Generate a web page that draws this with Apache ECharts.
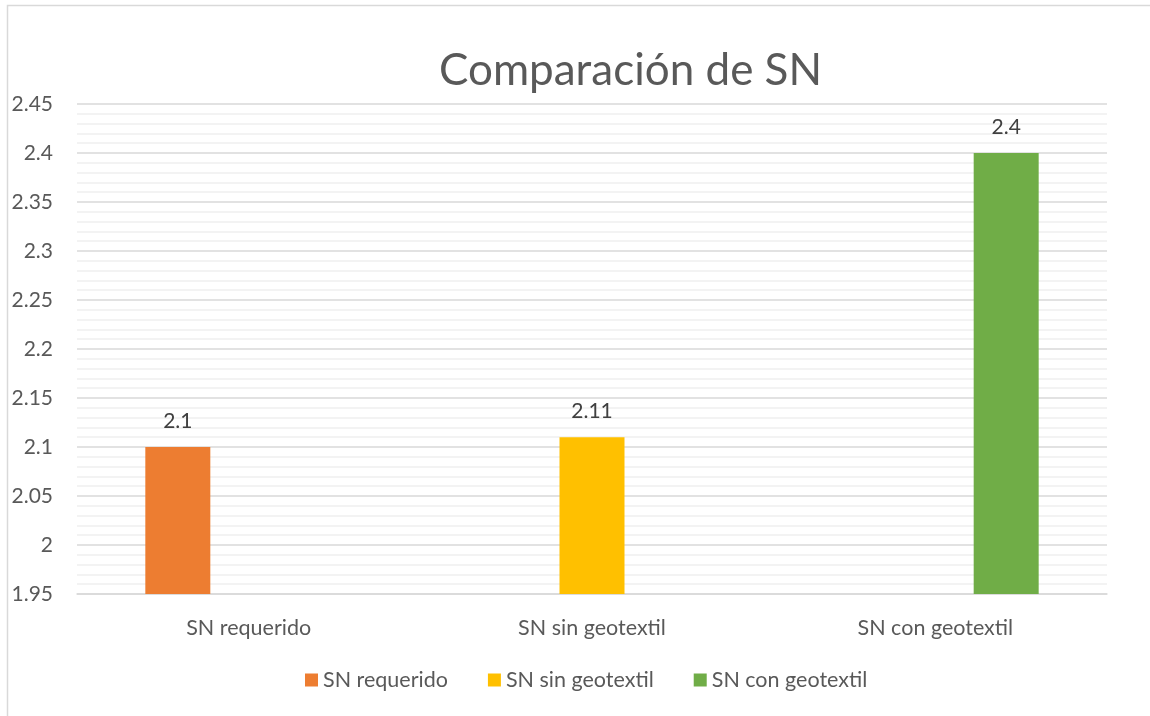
<!DOCTYPE html>
<html>
<head>
<meta charset="utf-8">
<script src="https://cdn.jsdelivr.net/npm/echarts@6/dist/echarts.min.js"></script>
<style>html,body{margin:0;padding:0;background:#fff;}#c{width:1150px;height:716px;}</style>
</head>
<body>
<div id="c"></div>
<script>
const categories = ['SN requerido', 'SN sin geotextil', 'SN con geotextil'];
const seriesNames = ['SN requerido', 'SN sin geotextil', 'SN con geotextil'];
const snRequerido = [2.1, null, null];
const snSinGeotextil = [null, 2.11, null];
const snConGeotextil = [null, null, 2.4];
const yMin = 1.95, yMax = 2.45, yStep = 0.05;

const colors = ['#ED7D31', '#FFC000', '#70AD47'];
const font = 'Lato, "Open Sans", sans-serif';
const chart = echarts.init(document.getElementById('c'));
const seriesData = [snRequerido, snSinGeotextil, snConGeotextil];
chart.setOption({
  animation: false,
  color: colors,
  title: {
    text: 'Comparación de SN',
    left: 434, top: 44,
    textStyle: { fontFamily: font, fontSize: 44, fontWeight: 'normal', color: '#595959' }
  },
  graphic: [{
    type: 'rect', shape: { x: 7.5, y: 5.5, width: 1400, height: 900 },
    style: { fill: 'none', stroke: '#d9d9d9', lineWidth: 1.5 }, silent: true
  }],
  legend: {
    left: 300, top: 664,
    icon: 'rect', itemWidth: 13, itemHeight: 13, itemGap: 40,
    textStyle: { fontFamily: font, fontSize: 21.5, color: '#595959', padding: [0, 0, 0, 0] },
    data: seriesNames
  },
  grid: { left: 77, right: 43, top: 104, bottom: 122, containLabel: false },
  xAxis: {
    type: 'category', data: categories,
    axisLine: { lineStyle: { color: '#d9d9d9', width: 1.5 } },
    axisTick: { show: false },
    axisLabel: { fontFamily: font, fontSize: 21.5, color: '#595959', margin: 23 }
  },
  yAxis: {
    type: 'value', min: yMin, max: yMax, interval: yStep,
    axisLine: { show: false }, axisTick: { show: false },
    axisLabel: { fontFamily: font, fontSize: 21, color: '#595959', margin: 24,
      formatter: v => String(+v.toFixed(2)) },
    splitLine: { lineStyle: { color: '#d9d9d9', width: 1.5 } },
    minorTick: { show: false, splitNumber: 5 },
    minorSplitLine: { show: true, lineStyle: { color: '#efefef', width: 1.5 } }
  },
  series: seriesData.map((d, i) => ({
    name: seriesNames[i], type: 'bar', data: d,
    barWidth: 65, barGap: '9%',
    label: { show: true, position: 'top', distance: 15, fontFamily: font, fontSize: 21, color: '#404040' }
  }))
});
</script>
</body>
</html>
